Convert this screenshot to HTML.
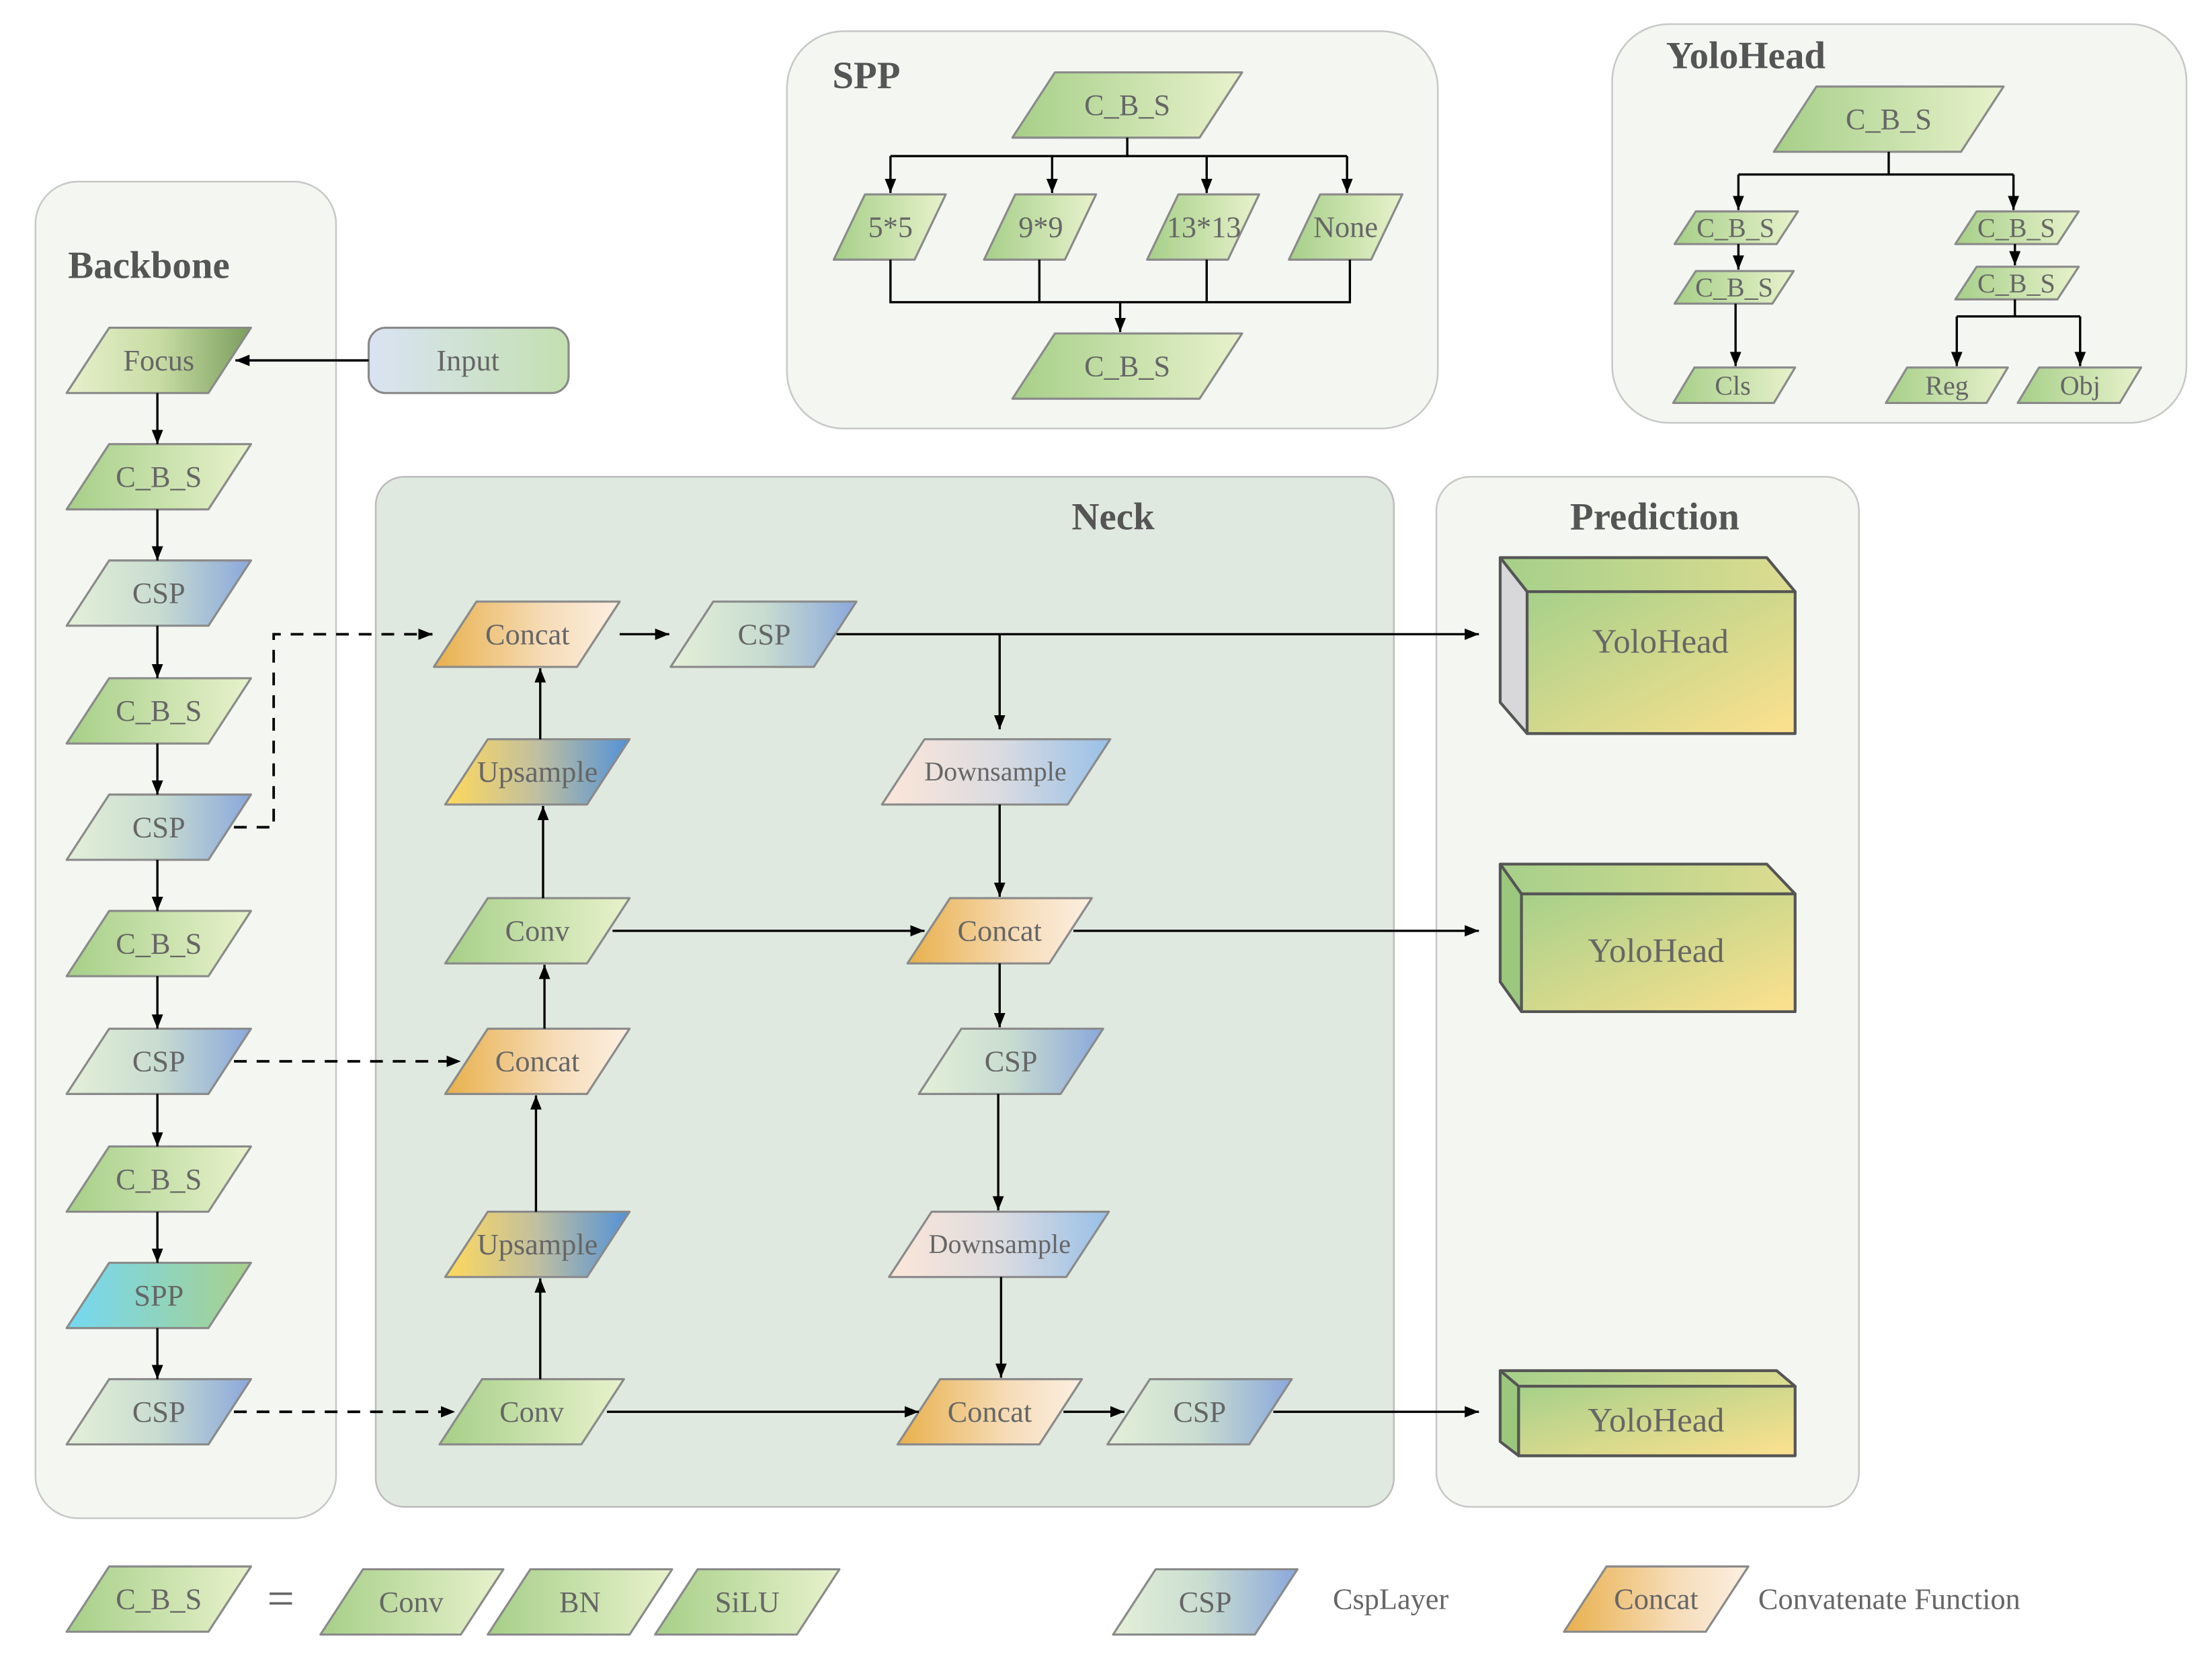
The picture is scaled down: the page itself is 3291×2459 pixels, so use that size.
<!DOCTYPE html>
<html><head><meta charset="utf-8"><style>
html,body{margin:0;padding:0;background:#fff;}
svg{display:block;}
text{font-family:"Liberation Serif",serif;fill:#666;}
.t{font-size:21px;text-anchor:middle;}
.s{font-size:19px;text-anchor:middle;}
.h{font-weight:bold;font-size:27px;fill:#555;}
.n{stroke:#8a8a8a;stroke-width:1.5;stroke-linejoin:round;}
.l{stroke:#000;stroke-width:1.6;fill:none;}
.d{stroke:#000;stroke-width:1.8;fill:none;stroke-dasharray:9 7;}
</style></head><body>
<svg width="3291" height="2459" viewBox="0 0 1560 1165" preserveAspectRatio="none" xmlns="http://www.w3.org/2000/svg">
<defs>
<marker id="a" viewBox="0 0 10 10" refX="10" refY="5" markerWidth="10" markerHeight="10" markerUnits="userSpaceOnUse" orient="auto"><path d="M0,1 L10,5 L0,9 z" fill="#000"/></marker>
<linearGradient id="cbs"><stop offset="0" stop-color="#a6cf88"/><stop offset="1" stop-color="#e8f2cc"/></linearGradient>
<linearGradient id="foc"><stop offset="0" stop-color="#e8f0cc"/><stop offset="0.5" stop-color="#c8dca4"/><stop offset="1" stop-color="#7a9e5c"/></linearGradient>
<linearGradient id="csp"><stop offset="0" stop-color="#e4f0d8"/><stop offset="0.5" stop-color="#c8dcd0"/><stop offset="1" stop-color="#8aa8dc"/></linearGradient>
<linearGradient id="cat"><stop offset="0" stop-color="#e8b04c"/><stop offset="0.6" stop-color="#f6dcb8"/><stop offset="1" stop-color="#fcefe2"/></linearGradient>
<linearGradient id="ups"><stop offset="0" stop-color="#ffd95c"/><stop offset="0.5" stop-color="#c0bfa0"/><stop offset="1" stop-color="#5292d8"/></linearGradient>
<linearGradient id="dns"><stop offset="0" stop-color="#fde6d8"/><stop offset="0.5" stop-color="#dcdce0"/><stop offset="1" stop-color="#98c0e8"/></linearGradient>
<linearGradient id="spp"><stop offset="0" stop-color="#74d8f2"/><stop offset="1" stop-color="#a8d08c"/></linearGradient>
<linearGradient id="inp"><stop offset="0" stop-color="#dae3f3"/><stop offset="1" stop-color="#c3e0b0"/></linearGradient>
<linearGradient id="box" x1="0" y1="0" x2="1" y2="1"><stop offset="0" stop-color="#a6d08a"/><stop offset="1" stop-color="#fde18e"/></linearGradient>
<linearGradient id="top"><stop offset="0" stop-color="#a6d08a"/><stop offset="1" stop-color="#dcdc90"/></linearGradient>
</defs>

<!-- panels -->
<rect x="25" y="128" width="212" height="942" rx="30" fill="#f4f7f1" stroke="#c8c8c8" stroke-width="1.2"/>
<rect x="265" y="336" width="718" height="726" rx="20" fill="#e0e9df" stroke="#bcbcbc" stroke-width="1.2"/>
<rect x="1013" y="336" width="298" height="726" rx="24" fill="#f4f7f1" stroke="#c8c8c8" stroke-width="1.2"/>
<rect x="555" y="22" width="459" height="280" rx="40" fill="#f4f7f1" stroke="#c8c8c8" stroke-width="1.2"/>
<rect x="1137" y="17" width="405" height="281" rx="40" fill="#f4f7f1" stroke="#c8c8c8" stroke-width="1.2"/>

<text class="h" x="48" y="196">Backbone</text>
<text class="h" x="785" y="373" text-anchor="middle">Neck</text>
<text class="h" x="1167" y="373" text-anchor="middle">Prediction</text>
<text class="h" x="587" y="62">SPP</text>
<text class="h" x="1175" y="48">YoloHead</text>

<!-- backbone nodes -->
<g transform="translate(47,231)"><polygon class="n" points="30,0 130,0 100,46 0,46" fill="url(#foc)"/><text class="t" x="65" y="30">Focus</text></g>
<g transform="translate(47,313)"><polygon class="n" points="30,0 130,0 100,46 0,46" fill="url(#cbs)"/><text class="t" x="65" y="30">C_B_S</text></g>
<g transform="translate(47,395)"><polygon class="n" points="30,0 130,0 100,46 0,46" fill="url(#csp)"/><text class="t" x="65" y="30">CSP</text></g>
<g transform="translate(47,478)"><polygon class="n" points="30,0 130,0 100,46 0,46" fill="url(#cbs)"/><text class="t" x="65" y="30">C_B_S</text></g>
<g transform="translate(47,560)"><polygon class="n" points="30,0 130,0 100,46 0,46" fill="url(#csp)"/><text class="t" x="65" y="30">CSP</text></g>
<g transform="translate(47,642)"><polygon class="n" points="30,0 130,0 100,46 0,46" fill="url(#cbs)"/><text class="t" x="65" y="30">C_B_S</text></g>
<g transform="translate(47,725)"><polygon class="n" points="30,0 130,0 100,46 0,46" fill="url(#csp)"/><text class="t" x="65" y="30">CSP</text></g>
<g transform="translate(47,808)"><polygon class="n" points="30,0 130,0 100,46 0,46" fill="url(#cbs)"/><text class="t" x="65" y="30">C_B_S</text></g>
<g transform="translate(47,890)"><polygon class="n" points="30,0 130,0 100,46 0,46" fill="url(#spp)"/><text class="t" x="65" y="30">SPP</text></g>
<g transform="translate(47,972)"><polygon class="n" points="30,0 130,0 100,46 0,46" fill="url(#csp)"/><text class="t" x="65" y="30">CSP</text></g>
<rect class="n" x="260" y="231" width="141" height="46" rx="12" fill="url(#inp)"/><text class="t" x="330" y="261">Input</text>

<path class="l" d="M260,254 H166" marker-end="url(#a)"/>
<path class="l" d="M111,277 V313" marker-end="url(#a)"/>
<path class="l" d="M111,359 V395" marker-end="url(#a)"/>
<path class="l" d="M111,441 V478" marker-end="url(#a)"/>
<path class="l" d="M111,524 V560" marker-end="url(#a)"/>
<path class="l" d="M111,606 V642" marker-end="url(#a)"/>
<path class="l" d="M111,688 V725" marker-end="url(#a)"/>
<path class="l" d="M111,771 V808" marker-end="url(#a)"/>
<path class="l" d="M111,854 V890" marker-end="url(#a)"/>
<path class="l" d="M111,936 V972" marker-end="url(#a)"/>

<!-- dashed -->
<path class="d" d="M165,583 H193 V447 H305" marker-end="url(#a)"/>
<path class="d" d="M165,748 H325" marker-end="url(#a)"/>
<path class="d" d="M165,995 H321" marker-end="url(#a)"/>

<!-- neck nodes -->
<g transform="translate(306,424)"><polygon class="n" points="30,0 131,0 101,46 0,46" fill="url(#cat)"/><text class="t" x="66" y="30">Concat</text></g>
<g transform="translate(473,424)"><polygon class="n" points="30,0 131,0 101,46 0,46" fill="url(#csp)"/><text class="t" x="66" y="30">CSP</text></g>
<g transform="translate(314,521)"><polygon class="n" points="30,0 130,0 100,46 0,46" fill="url(#ups)"/><text class="t" x="65" y="30">Upsample</text></g>
<g transform="translate(314,633)"><polygon class="n" points="30,0 130,0 100,46 0,46" fill="url(#cbs)"/><text class="t" x="65" y="30">Conv</text></g>
<g transform="translate(314,725)"><polygon class="n" points="30,0 130,0 100,46 0,46" fill="url(#cat)"/><text class="t" x="65" y="30">Concat</text></g>
<g transform="translate(314,854)"><polygon class="n" points="30,0 130,0 100,46 0,46" fill="url(#ups)"/><text class="t" x="65" y="30">Upsample</text></g>
<g transform="translate(310,972)"><polygon class="n" points="30,0 130,0 100,46 0,46" fill="url(#cbs)"/><text class="t" x="65" y="30">Conv</text></g>
<g transform="translate(622,521)"><polygon class="n" points="30,0 161,0 131,46 0,46" fill="url(#dns)"/><text class="s" x="80" y="29">Downsample</text></g>
<g transform="translate(640,633)"><polygon class="n" points="30,0 130,0 100,46 0,46" fill="url(#cat)"/><text class="t" x="65" y="30">Concat</text></g>
<g transform="translate(648,725)"><polygon class="n" points="30,0 130,0 100,46 0,46" fill="url(#csp)"/><text class="t" x="65" y="30">CSP</text></g>
<g transform="translate(627,854)"><polygon class="n" points="30,0 155,0 125,46 0,46" fill="url(#dns)"/><text class="s" x="78" y="29">Downsample</text></g>
<g transform="translate(633,972)"><polygon class="n" points="30,0 130,0 100,46 0,46" fill="url(#cat)"/><text class="t" x="65" y="30">Concat</text></g>
<g transform="translate(781,972)"><polygon class="n" points="30,0 130,0 100,46 0,46" fill="url(#csp)"/><text class="t" x="65" y="30">CSP</text></g>

<path class="l" d="M437,447 H472" marker-end="url(#a)"/>
<path class="l" d="M590,447 H1043" marker-end="url(#a)"/>
<path class="l" d="M705,447 V514" marker-end="url(#a)"/>
<path class="l" d="M381,521 V471" marker-end="url(#a)"/>
<path class="l" d="M383,633 V568" marker-end="url(#a)"/>
<path class="l" d="M384,725 V680" marker-end="url(#a)"/>
<path class="l" d="M378,854 V772" marker-end="url(#a)"/>
<path class="l" d="M381,972 V901" marker-end="url(#a)"/>
<path class="l" d="M432,656 H652" marker-end="url(#a)"/>
<path class="l" d="M705,567 V632" marker-end="url(#a)"/>
<path class="l" d="M757,656 H1043" marker-end="url(#a)"/>
<path class="l" d="M705,679 V724" marker-end="url(#a)"/>
<path class="l" d="M704,771 V853" marker-end="url(#a)"/>
<path class="l" d="M706,900 V971" marker-end="url(#a)"/>
<path class="l" d="M428,995 H648" marker-end="url(#a)"/>
<path class="l" d="M750,995 H793" marker-end="url(#a)"/>
<path class="l" d="M898,995 H1043" marker-end="url(#a)"/>

<!-- prediction boxes -->
<g stroke="#555" stroke-width="2" stroke-linejoin="round">
<polygon points="1058,393 1246,393 1266,417 1077,417" fill="url(#top)"/>
<polygon points="1058,393 1077,417 1077,517 1058,495" fill="#d8d8da"/>
<rect x="1077" y="417" width="189" height="100" fill="url(#box)"/>
<polygon points="1058,609 1246,609 1266,630 1073,630" fill="url(#top)"/>
<polygon points="1058,609 1073,630 1073,713 1058,692" fill="#9cc87e"/>
<rect x="1073" y="630" width="193" height="83" fill="url(#box)"/>
<polygon points="1058,966 1253,966 1266,977 1071,977" fill="url(#top)"/>
<polygon points="1058,966 1071,977 1071,1026 1058,1016" fill="#9cc87e"/>
<rect x="1071" y="977" width="195" height="49" fill="url(#box)"/>
</g>
<text class="t" x="1171" y="460" style="font-size:24px">YoloHead</text>
<text class="t" x="1168" y="678" style="font-size:24px">YoloHead</text>
<text class="t" x="1168" y="1009" style="font-size:24px">YoloHead</text>

<!-- SPP -->
<g transform="translate(714,51)"><polygon class="n" points="30,0 162,0 132,46 0,46" fill="url(#cbs)"/><text class="t" x="81" y="30">C_B_S</text></g>
<g transform="translate(588,137)"><polygon class="n" points="22,0 79,0 57,46 0,46" fill="url(#cbs)"/><text class="t" x="40" y="30">5*5</text></g>
<g transform="translate(694,137)"><polygon class="n" points="22,0 79,0 57,46 0,46" fill="url(#cbs)"/><text class="t" x="40" y="30">9*9</text></g>
<g transform="translate(809,137)"><polygon class="n" points="22,0 79,0 57,46 0,46" fill="url(#cbs)"/><text class="t" x="40" y="30">13*13</text></g>
<g transform="translate(909,137)"><polygon class="n" points="22,0 80,0 58,46 0,46" fill="url(#cbs)"/><text class="t" x="40" y="30">None</text></g>
<g transform="translate(714,235)"><polygon class="n" points="30,0 162,0 132,46 0,46" fill="url(#cbs)"/><text class="t" x="81" y="30">C_B_S</text></g>
<path class="l" d="M795,97 V110 M628,110 H950"/>
<path class="l" d="M628,110 V136" marker-end="url(#a)"/>
<path class="l" d="M742,110 V136" marker-end="url(#a)"/>
<path class="l" d="M851,110 V136" marker-end="url(#a)"/>
<path class="l" d="M950,110 V136" marker-end="url(#a)"/>
<path class="l" d="M628,183 V213 H952 V183 M733,183 V213 M851,183 V213"/>
<path class="l" d="M790,213 V234" marker-end="url(#a)"/>

<!-- YoloHead -->
<g transform="translate(1251,61)"><polygon class="n" points="30,0 162,0 132,46 0,46" fill="url(#cbs)"/><text class="t" x="81" y="30">C_B_S</text></g>
<g transform="translate(1181,149)"><polygon class="n" points="15,0 87,0 72,23 0,23" fill="url(#cbs)"/><text class="s" x="43" y="18">C_B_S</text></g>
<g transform="translate(1181,191)"><polygon class="n" points="15,0 84,0 69,23 0,23" fill="url(#cbs)"/><text class="s" x="42" y="18">C_B_S</text></g>
<g transform="translate(1180,259)"><polygon class="n" points="15,0 86,0 71,25 0,25" fill="url(#cbs)"/><text class="s" x="42" y="19">Cls</text></g>
<g transform="translate(1379,149)"><polygon class="n" points="15,0 87,0 72,23 0,23" fill="url(#cbs)"/><text class="s" x="43" y="18">C_B_S</text></g>
<g transform="translate(1379,188)"><polygon class="n" points="15,0 87,0 72,23 0,23" fill="url(#cbs)"/><text class="s" x="43" y="18">C_B_S</text></g>
<g transform="translate(1330,259)"><polygon class="n" points="15,0 86,0 71,25 0,25" fill="url(#cbs)"/><text class="s" x="43" y="19">Reg</text></g>
<g transform="translate(1423,259)"><polygon class="n" points="15,0 87,0 72,25 0,25" fill="url(#cbs)"/><text class="s" x="44" y="19">Obj</text></g>
<path class="l" d="M1332,107 V123 M1226,123 H1420"/>
<path class="l" d="M1226,123 V148" marker-end="url(#a)"/>
<path class="l" d="M1420,123 V148" marker-end="url(#a)"/>
<path class="l" d="M1226,172 V190" marker-end="url(#a)"/>
<path class="l" d="M1421,172 V187" marker-end="url(#a)"/>
<path class="l" d="M1224,214 V258" marker-end="url(#a)"/>
<path class="l" d="M1421,211 V223 M1380,223 H1467"/>
<path class="l" d="M1380,223 V258" marker-end="url(#a)"/>
<path class="l" d="M1467,223 V258" marker-end="url(#a)"/>

<!-- legend -->
<g transform="translate(47,1104)"><polygon class="n" points="30,0 130,0 100,46 0,46" fill="url(#cbs)"/><text class="t" x="65" y="30">C_B_S</text></g>
<text x="198" y="1138" style="font-size:34px;text-anchor:middle">=</text>
<g transform="translate(226,1106)"><polygon class="n" points="30,0 129,0 99,46 0,46" fill="url(#cbs)"/><text class="t" x="64" y="30">Conv</text></g>
<g transform="translate(344,1106)"><polygon class="n" points="30,0 130,0 100,46 0,46" fill="url(#cbs)"/><text class="t" x="65" y="30">BN</text></g>
<g transform="translate(462,1106)"><polygon class="n" points="30,0 130,0 100,46 0,46" fill="url(#cbs)"/><text class="t" x="65" y="30">SiLU</text></g>
<g transform="translate(785,1106)"><polygon class="n" points="30,0 130,0 100,46 0,46" fill="url(#csp)"/><text class="t" x="65" y="30">CSP</text></g>
<text x="940" y="1134" style="font-size:21px">CspLayer</text>
<g transform="translate(1103,1104)"><polygon class="n" points="30,0 130,0 100,46 0,46" fill="url(#cat)"/><text class="t" x="65" y="30">Concat</text></g>
<text x="1240" y="1134" style="font-size:21px">Convatenate Function</text>
</svg>
</body></html>
